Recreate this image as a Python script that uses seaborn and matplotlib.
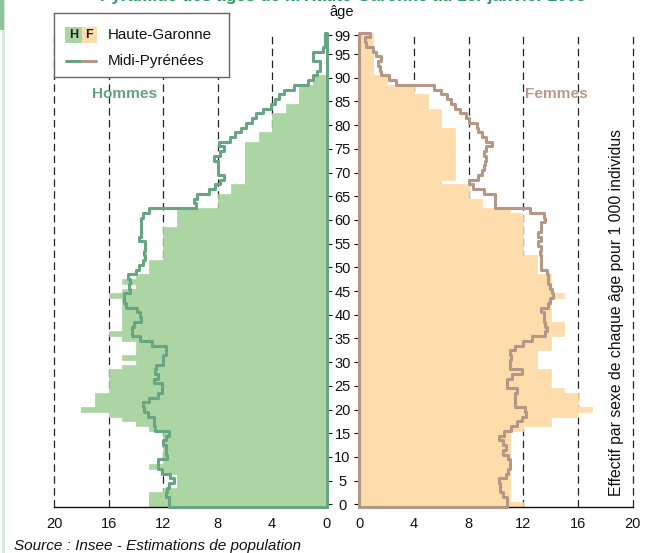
import matplotlib
matplotlib.use('Agg')
import matplotlib.pyplot as plt
from matplotlib import font_manager
from matplotlib.patches import Rectangle
from matplotlib.lines import Line2D
import pandas as pd
import seaborn as sns

# ---- data (effectif par sexe de chaque age pour 1 000 individus) ----
ages = list(range(100))
age_ticks = [0, 5, 10, 15, 20, 25, 30, 35, 40, 45, 50, 55, 60, 65, 70, 75, 80, 85, 90, 95, 99]
x_ticks = [0, 4, 8, 12, 16, 20]

# Haute-Garonne
hg_hommes = [13, 13, 13, 12, 11, 11, 11, 12, 13, 12,
             12, 12, 12, 12, 12, 12, 13, 14, 15, 16,
             18, 17, 17, 17, 16, 16, 16, 16, 16, 15,
             14, 15, 14, 14, 14, 15, 16, 15, 15, 15,
             15, 15, 15, 15, 16, 15, 14, 15, 14, 13,
             13, 13, 12, 12, 12, 12, 12, 12, 12, 11,
             11, 11, 11, 8, 8, 8, 7, 7, 6, 6,
             6, 6, 6, 6, 6, 6, 6, 5, 5, 4,
             4, 4, 4, 3, 3, 2, 2, 2, 2, 1,
             1, 0, 0, 0, 0, 0, 0, 0, 0, 0]
hg_femmes = [12, 11, 11, 11, 11, 11, 11, 11, 11, 11,
             11, 11, 11, 11, 11, 11, 12, 14, 14, 16,
             17, 16, 16, 16, 15, 14, 14, 14, 14, 13,
             13, 13, 13, 14, 14, 14, 15, 15, 15, 14,
             14, 14, 14, 14, 15, 14, 14, 14, 14, 13,
             13, 13, 13, 12, 12, 12, 12, 12, 12, 12,
             12, 12, 11, 9, 9, 8, 8, 8, 6, 7,
             7, 7, 7, 7, 7, 7, 7, 7, 7, 7,
             6, 6, 6, 6, 5, 5, 5, 4, 4, 2,
             2, 1, 1, 1, 1, 1, 1, 1, 1, 1]

# Midi-Pyrenees
mp_hommes = [11.6, 11.6, 11.8, 11.7, 11.6, 11.2, 11.5, 12.1, 12.4, 12.4,
             11.7, 11.8, 11.8, 12.0, 11.8, 11.6, 12.6, 12.7, 12.7, 13.1,
             13.4, 13.5, 13.0, 12.4, 12.1, 12.1, 12.7, 12.4, 12.6, 12.5,
             12.0, 12.0, 11.8, 11.8, 12.8, 13.7, 14.3, 14.3, 14.1, 13.6,
             13.7, 13.9, 14.75, 14.9, 14.9, 14.4, 14.5, 14.4, 14.6, 14.0,
             13.8, 13.5, 13.3, 13.4, 13.3, 13.3, 13.8, 13.65, 13.6, 13.65,
             13.65, 13.5, 13.0, 9.6, 9.7, 9.5, 8.6, 8.2, 7.8, 7.5,
             8.0, 8.0, 8.0, 8.3, 7.8, 7.5, 7.9, 7.1, 6.7, 6.3,
             5.9, 5.5, 5.2, 4.7, 4.1, 3.8, 3.5, 3.1, 2.4, 1.4,
             1.0, 0.7, 0.5, 0.5, 1.0, 1.0, 0.25, 0.1, 0.1, 0.1]
mp_femmes = [10.8, 10.8, 10.5, 10.3, 10.3, 10.2, 10.7, 10.9, 11.0, 11.0,
             10.9, 10.5, 10.7, 10.5, 10.2, 10.6, 11.1, 11.5, 11.9, 12.2,
             12.1, 11.4, 11.4, 11.4, 11.5, 10.8, 10.8, 11.2, 11.9, 11.0,
             11.0, 11.1, 11.0, 11.4, 12.0, 12.6, 13.6, 13.7, 13.6, 13.5,
             13.5, 13.3, 13.8, 13.95, 14.2, 14.1, 13.95, 13.8, 13.8, 13.7,
             13.3, 13.3, 13.3, 13.2, 13.3, 13.1, 13.3, 13.1, 13.3, 13.3,
             13.6, 13.5, 12.5, 9.9, 9.9, 9.9, 9.1, 8.3, 8.0, 8.7,
             8.95, 9.1, 9.2, 9.3, 9.1, 9.3, 9.7, 9.3, 9.0, 8.7,
             8.6, 8.05, 7.8, 7.4, 7.0, 6.7, 6.4, 6.0, 5.5, 2.7,
             2.2, 1.6, 1.5, 1.4, 1.6, 1.2, 1.0, 0.5, 0.4, 0.8]

GREEN_FILL = '#abd5a2'
ORANGE_FILL = '#fedcab'
GREEN_LINE = '#68a582'
BROWN_LINE = '#b59787'
GREEN_TXT = '#64a47c'
BROWN_TXT = '#b89a8b'

sns.set_style('white')
names = {f.name for f in font_manager.fontManager.ttflist}
if 'Liberation Sans Narrow' in names:
    FAM, K = 'Liberation Sans Narrow', 1.0
else:
    FAM, K = 'Liberation Sans', 0.82
plt.rcParams['font.family'] = [FAM, 'DejaVu Sans']
TICK_FS = 10.5 if K < 1 else 12

W, H = 672, 553
fig = plt.figure(figsize=(W / 100, H / 100), dpi=100)


def box(x0, y0, x1, y1):
    # pixel box (from top-left) -> figure fraction
    return [x0 / W, 1 - y1 / H, (x1 - x0) / W, (y1 - y0) / H]


def contour(vals):
    # closed step outline around one side of the pyramid
    xs, ys = [0], [-0.5]
    for a, v in zip(ages, vals):
        xs += [v, v]
        ys += [a - 0.5, a + 0.5]
    xs += [0, 0]
    ys += [ages[-1] + 0.5, -0.5]
    return xs, ys


ax_h = fig.add_axes(box(54, 32.7, 326.7, 506.7))
ax_f = fig.add_axes(box(359.3, 32.7, 632.7, 506.7))

for ax, hg, mp, fill, line in [(ax_h, hg_hommes, mp_hommes, GREEN_FILL, GREEN_LINE),
                               (ax_f, hg_femmes, mp_femmes, ORANGE_FILL, BROWN_LINE)]:
    df = pd.DataFrame({'age': ages, 'effectif': hg})
    sns.barplot(data=df, x='effectif', y='age', orient='y', native_scale=True,
                width=1, color=fill, saturation=1, errorbar=None,
                edgecolor=fill, linewidth=0.5, ax=ax)
    xs, ys = contour(mp)
    ax.plot(xs, ys, color=line, lw=2.2, clip_on=False, zorder=4)

    ax.set_ylim(-0.5, 99.5)
    ax.set_xticks(x_ticks)
    ax.set_xticklabels([str(t) for t in x_ticks])
    ax.set_axisbelow(True)
    ax.grid(axis='x', color='#222222', lw=0.9, ls=(0, (6, 3.5)), clip_on=False)
    ax.grid(axis='y', visible=False)
    ax.set_xlabel('')
    ax.set_ylabel('')
    for s in ['top', 'left', 'right']:
        ax.spines[s].set_visible(False)
    ax.spines['bottom'].set_color('#111111')
    ax.spines['bottom'].set_linewidth(1.0)
    ax.tick_params(axis='x', length=0, pad=7.5, labelsize=TICK_FS, colors='#111111')
    ax.set_yticks(age_ticks)
    ax.set_facecolor('none')

ax_h.set_xlim(20, 0)
ax_f.set_xlim(0, 20)

ax_h.yaxis.set_ticks_position('right')
ax_h.tick_params(axis='y', right=True, left=False, labelright=True, labelleft=False,
                 direction='out', length=3.5, width=0.8, pad=7.9,
                 labelsize=TICK_FS, colors='#111111')
plt.setp(ax_h.get_yticklabels(), ha='center')
ax_f.tick_params(axis='y', left=True, right=False, labelleft=False, labelright=False,
                 direction='out', length=3.5, width=0.8, colors='#111111')

# legend box
ax_leg = fig.add_axes(box(54, 12.7, 229, 76.7))
ax_leg.set_xlim(54, 229)
ax_leg.set_ylim(76.7, 12.7)
ax_leg.set_xticks([])
ax_leg.set_yticks([])
ax_leg.set_facecolor('white')
for s in ax_leg.spines.values():
    s.set_visible(True)
    s.set_color('#666666')
    s.set_linewidth(1.0)
ax_leg.add_patch(Rectangle((65.3, 26.7), 16.2, 16.6, fc=GREEN_FILL, ec='none'))
ax_leg.add_patch(Rectangle((81.5, 26.7), 15.5, 16.6, fc=ORANGE_FILL, ec='none'))
ax_leg.text(73.4, 35.5, 'H', ha='center', va='center', fontweight='bold', fontsize=11 * K, color='#222222')
ax_leg.text(89.2, 35.5, 'F', ha='center', va='center', fontweight='bold', fontsize=11 * K, color='#222222')
ax_leg.text(108, 35, 'Haute-Garonne', ha='left', va='center', fontsize=13.3 * K, color='#111111')
ax_leg.add_line(Line2D([66, 81.5], [60.7, 60.7], color=GREEN_LINE, lw=2.2))
ax_leg.add_line(Line2D([81.5, 96], [60.7, 60.7], color=BROWN_LINE, lw=2.2))
ax_leg.text(108, 61.5, 'Midi-Pyrénées', ha='left', va='center', fontsize=13.3 * K, color='#111111')

# texts
fig.text(125 / W, 1 - 94 / H, 'Hommes', ha='center', va='center', fontweight='bold',
         fontsize=13.5 * K, color=GREEN_TXT)
fig.text(556 / W, 1 - 94 / H, 'Femmes', ha='center', va='center', fontweight='bold',
         fontsize=13.5 * K, color=BROWN_TXT)
fig.text(342 / W, 1 - 12 / H, 'âge', ha='center', va='center', fontsize=TICK_FS, color='#111111')
fig.text(617 / W, 1 - 313 / H, 'Effectif par sexe de chaque âge pour 1 000 individus',
         ha='center', va='center', rotation=90, fontsize=13.8 * K, color='#111111')
fig.text(14 / W, 1 - 546 / H, 'Source : Insee - Estimations de population', ha='left', va='center',
         style='italic', fontsize=13.4 * K, color='#111111')
fig.text(343 / W, 1 - 1.5 / H, 'Pyramide des âges de la Haute-Garonne au 1er janvier 2008',
         ha='center', va='baseline', fontweight='bold', fontsize=15 * K, color='#2e9a5e')

# page margin strip
fig.add_artist(Rectangle((2 / W, 0), 3 / W, 1, transform=fig.transFigure, fc='#d3eada', ec='none'))
fig.add_artist(Rectangle((0, 1 - 30 / H), 4 / W, 30 / H, transform=fig.transFigure, fc='#8cc59c', ec='none'))

fig.savefig('out.png', dpi=100)
